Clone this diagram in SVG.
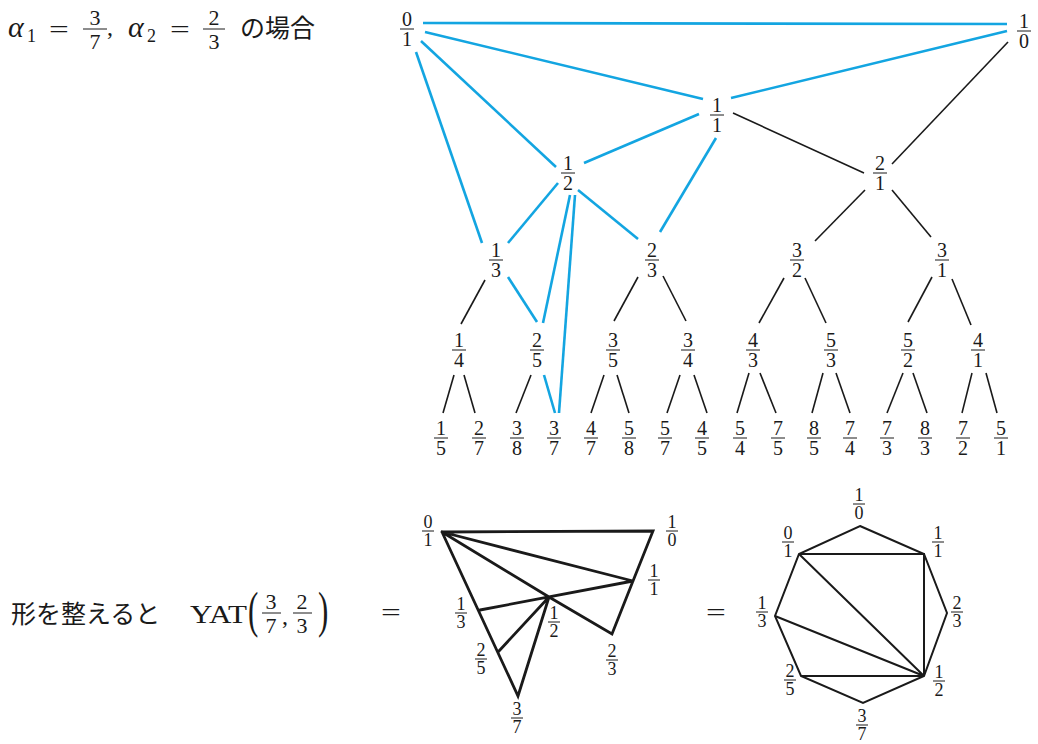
<svg xmlns="http://www.w3.org/2000/svg" width="1038" height="744" viewBox="0 0 1038 744" font-family="'Liberation Serif', 'DejaVu Serif', serif">
<style>
text { font-family: "Liberation Serif", "DejaVu Serif", serif; fill: #1a1a1a; }
.jp { font-family: "Noto Sans CJK JP", "Noto Sans CJK SC", sans-serif; font-size: 25px; }
.fr text { font-size: 20px; text-anchor: middle; }
.fs text { font-size: 18px; text-anchor: middle; }
.fm text { font-size: 22px; text-anchor: middle; }
.fr line, .fs line, .fm line { stroke: #1a1a1a; stroke-width: 1; }
.blue { stroke: #13a5e1; stroke-width: 2.6; fill: none; }
.blk { stroke: #1a1a1a; stroke-width: 1.6; fill: none; }
.thick { stroke: #1a1a1a; stroke-width: 2.8; fill: none; stroke-linejoin: miter; stroke-linecap: round; }
.oct { stroke: #1a1a1a; stroke-width: 2; fill: none; stroke-linejoin: miter; }
.eq { font-size: 26px; text-anchor: middle; }
</style>

<!-- Heading -->
<g id="heading">
  <text x="8" y="37" font-size="30" font-style="italic">α</text>
  <text x="27" y="42" font-size="18">1</text>
  <text transform="translate(59,38) scale(1.35,1)" class="eq">=</text>
  <g class="fm"><text x="95" y="25">3</text><line x1="83" y1="29" x2="107" y2="29"/><text x="95" y="49">7</text></g>
  <text x="107" y="35" font-size="24">,</text>
  <text x="128" y="37" font-size="30" font-style="italic">α</text>
  <text x="147" y="42" font-size="18">2</text>
  <text transform="translate(180,38) scale(1.35,1)" class="eq">=</text>
  <g class="fm"><text x="214" y="25">2</text><line x1="203" y1="29" x2="225" y2="29"/><text x="214" y="49">3</text></g>
  <text x="240" y="37" class="jp" font-size="26">の場合</text>
</g>

<!-- Connectors of the tree -->
<g id="connectors">
  <line class="blue" x1="423" y1="23" x2="1007" y2="24"/>
  <line class="blue" x1="425" y1="32" x2="703" y2="99"/>
  <line class="blue" x1="421" y1="41" x2="556" y2="167"/>
  <line class="blue" x1="416" y1="52" x2="482" y2="243"/>
  <line class="blue" x1="584" y1="163" x2="699" y2="114"/>
  <line class="blue" x1="716" y1="138" x2="660" y2="232"/>
  <line class="blue" x1="731" y1="98" x2="1007" y2="31"/>
  <line class="blue" x1="558" y1="183" x2="508" y2="243"/>
  <line class="blue" x1="578" y1="190" x2="638" y2="239"/>
  <line class="blue" x1="570" y1="195" x2="543" y2="323"/>
  <line class="blue" x1="575" y1="195" x2="559" y2="413"/>
  <line class="blue" x1="508" y1="277" x2="537" y2="322"/>
  <line class="blue" x1="544" y1="375" x2="555" y2="413"/>

  <line class="blk" x1="733" y1="113" x2="864" y2="173"/>
  <line class="blk" x1="1008" y1="42" x2="892" y2="164"/>
  <line class="blk" x1="865" y1="190" x2="815" y2="241"/>
  <line class="blk" x1="892" y1="190" x2="931" y2="237"/>
  <line class="blk" x1="485" y1="280" x2="461" y2="324"/>
  <line class="blk" x1="638" y1="277" x2="614" y2="321"/>
  <line class="blk" x1="663" y1="276" x2="686" y2="321"/>
  <line class="blk" x1="784" y1="278" x2="759" y2="323"/>
  <line class="blk" x1="805" y1="278" x2="826" y2="323"/>
  <line class="blk" x1="932" y1="277" x2="908" y2="322"/>
  <line class="blk" x1="952" y1="279" x2="971" y2="325"/>
  <line class="blk" x1="454" y1="375" x2="443" y2="413"/>
  <line class="blk" x1="464" y1="375" x2="475" y2="413"/>
  <line class="blk" x1="531" y1="375" x2="516" y2="413"/>
  <line class="blk" x1="604" y1="375" x2="591" y2="413"/>
  <line class="blk" x1="617" y1="375" x2="629" y2="413"/>
  <line class="blk" x1="680" y1="375" x2="667" y2="413"/>
  <line class="blk" x1="694" y1="375" x2="707" y2="413"/>
  <line class="blk" x1="749" y1="373" x2="737" y2="413"/>
  <line class="blk" x1="760" y1="373" x2="776" y2="413"/>
  <line class="blk" x1="823" y1="373" x2="812" y2="413"/>
  <line class="blk" x1="836" y1="373" x2="850" y2="413"/>
  <line class="blk" x1="903" y1="373" x2="887" y2="413"/>
  <line class="blk" x1="913" y1="373" x2="927" y2="413"/>
  <line class="blk" x1="972" y1="373" x2="962" y2="413"/>
  <line class="blk" x1="986" y1="373" x2="997" y2="413"/>
</g>

<!-- Tree nodes -->
<g id="t-0-1" class="fr"><text x="407" y="26">0</text><line x1="400" y1="29" x2="414" y2="29"/><text x="407" y="46">1</text></g>
<g id="t-1-0" class="fr"><text x="1024" y="28">1</text><line x1="1017" y1="31" x2="1031" y2="31"/><text x="1024" y="48">0</text></g>
<g id="t-1-1" class="fr"><text x="717" y="112">1</text><line x1="710" y1="115" x2="724" y2="115"/><text x="717" y="132">1</text></g>
<g id="t-1-2" class="fr"><text x="568" y="170">1</text><line x1="561" y1="173" x2="575" y2="173"/><text x="568" y="190">2</text></g>
<g id="t-2-1" class="fr"><text x="880" y="170">2</text><line x1="873" y1="173" x2="887" y2="173"/><text x="880" y="190">1</text></g>
<g id="t-1-3" class="fr"><text x="496" y="257">1</text><line x1="489" y1="260" x2="503" y2="260"/><text x="496" y="277">3</text></g>
<g id="t-2-3" class="fr"><text x="652" y="257">2</text><line x1="645" y1="260" x2="659" y2="260"/><text x="652" y="277">3</text></g>
<g id="t-3-2" class="fr"><text x="797" y="257">3</text><line x1="790" y1="260" x2="804" y2="260"/><text x="797" y="277">2</text></g>
<g id="t-3-1" class="fr"><text x="942" y="257">3</text><line x1="935" y1="260" x2="949" y2="260"/><text x="942" y="277">1</text></g>
<g id="t-1-4" class="fr"><text x="459" y="347">1</text><line x1="452" y1="350" x2="466" y2="350"/><text x="459" y="367">4</text></g>
<g id="t-2-5" class="fr"><text x="537" y="347">2</text><line x1="530" y1="350" x2="544" y2="350"/><text x="537" y="367">5</text></g>
<g id="t-3-5" class="fr"><text x="613" y="347">3</text><line x1="606" y1="350" x2="620" y2="350"/><text x="613" y="367">5</text></g>
<g id="t-3-4" class="fr"><text x="688" y="347">3</text><line x1="681" y1="350" x2="695" y2="350"/><text x="688" y="367">4</text></g>
<g id="t-4-3" class="fr"><text x="753" y="347">4</text><line x1="746" y1="350" x2="760" y2="350"/><text x="753" y="367">3</text></g>
<g id="t-5-3" class="fr"><text x="831" y="347">5</text><line x1="824" y1="350" x2="838" y2="350"/><text x="831" y="367">3</text></g>
<g id="t-5-2" class="fr"><text x="908" y="347">5</text><line x1="901" y1="350" x2="915" y2="350"/><text x="908" y="367">2</text></g>
<g id="t-4-1" class="fr"><text x="978" y="347">4</text><line x1="971" y1="350" x2="985" y2="350"/><text x="978" y="367">1</text></g>
<g id="t-1-5" class="fr"><text x="441" y="435">1</text><line x1="434" y1="438" x2="448" y2="438"/><text x="441" y="455">5</text></g>
<g id="t-2-7" class="fr"><text x="479" y="435">2</text><line x1="472" y1="438" x2="486" y2="438"/><text x="479" y="455">7</text></g>
<g id="t-3-8" class="fr"><text x="517" y="435">3</text><line x1="510" y1="438" x2="524" y2="438"/><text x="517" y="455">8</text></g>
<g id="t-3-7" class="fr"><text x="554" y="435">3</text><line x1="547" y1="438" x2="561" y2="438"/><text x="554" y="455">7</text></g>
<g id="t-4-7" class="fr"><text x="591" y="435">4</text><line x1="584" y1="438" x2="598" y2="438"/><text x="591" y="455">7</text></g>
<g id="t-5-8" class="fr"><text x="629" y="435">5</text><line x1="622" y1="438" x2="636" y2="438"/><text x="629" y="455">8</text></g>
<g id="t-5-7" class="fr"><text x="665" y="435">5</text><line x1="658" y1="438" x2="672" y2="438"/><text x="665" y="455">7</text></g>
<g id="t-4-5" class="fr"><text x="702" y="435">4</text><line x1="695" y1="438" x2="709" y2="438"/><text x="702" y="455">5</text></g>
<g id="t-5-4" class="fr"><text x="740" y="435">5</text><line x1="733" y1="438" x2="747" y2="438"/><text x="740" y="455">4</text></g>
<g id="t-7-5" class="fr"><text x="778" y="435">7</text><line x1="771" y1="438" x2="785" y2="438"/><text x="778" y="455">5</text></g>
<g id="t-8-5" class="fr"><text x="814" y="435">8</text><line x1="807" y1="438" x2="821" y2="438"/><text x="814" y="455">5</text></g>
<g id="t-7-4" class="fr"><text x="850" y="435">7</text><line x1="843" y1="438" x2="857" y2="438"/><text x="850" y="455">4</text></g>
<g id="t-7-3" class="fr"><text x="887" y="435">7</text><line x1="880" y1="438" x2="894" y2="438"/><text x="887" y="455">3</text></g>
<g id="t-8-3" class="fr"><text x="925" y="435">8</text><line x1="918" y1="438" x2="932" y2="438"/><text x="925" y="455">3</text></g>
<g id="t-7-2" class="fr"><text x="963" y="435">7</text><line x1="956" y1="438" x2="970" y2="438"/><text x="963" y="455">2</text></g>
<g id="t-5-1" class="fr"><text x="1001" y="435">5</text><line x1="994" y1="438" x2="1008" y2="438"/><text x="1001" y="455">1</text></g>

<!-- Bottom formula -->
<g id="formula">
  <text x="11" y="623" class="jp" font-size="26">形を整えると</text>
  <text x="190" y="623" font-size="26" textLength="57" lengthAdjust="spacingAndGlyphs">YAT</text>
  <text transform="translate(248,627) scale(0.62,1)" font-size="50">(</text>
  <g class="fm"><text x="271" y="609">3</text><line x1="262" y1="613" x2="281" y2="613"/><text x="271" y="633">7</text></g>
  <text x="282" y="624" font-size="24">,</text>
  <g class="fm"><text x="302" y="609">2</text><line x1="293" y1="613" x2="312" y2="613"/><text x="302" y="633">3</text></g>
  <text transform="translate(318,627) scale(0.62,1)" font-size="50">)</text>
  <text transform="translate(391,621) scale(1.35,1)" class="eq">=</text>
  <text transform="translate(716,621) scale(1.35,1)" class="eq">=</text>
</g>

<!-- Triangulated figure -->
<g id="yat-figure">
  <path class="thick" d="M442,532 L653,531 L633,581 L612,634 L549,597 M442,532 L633,581 M442,532 L549,597 M480,610 L633,581 M442,532 L518,696 L549,597 M499,651 L549,597"/>
</g>
<g id="y-0-1" class="fs"><text x="428" y="528">0</text><line x1="422" y1="531" x2="434" y2="531"/><text x="428" y="546">1</text></g>
<g id="y-1-0" class="fs"><text x="672" y="528">1</text><line x1="666" y1="531" x2="678" y2="531"/><text x="672" y="546">0</text></g>
<g id="y-1-1" class="fs"><text x="654" y="577">1</text><line x1="648" y1="580" x2="660" y2="580"/><text x="654" y="595">1</text></g>
<g id="y-1-3" class="fs"><text x="461" y="610">1</text><line x1="455" y1="613" x2="467" y2="613"/><text x="461" y="628">3</text></g>
<g id="y-1-2" class="fs"><text x="554" y="619">1</text><line x1="548" y1="622" x2="560" y2="622"/><text x="554" y="637">2</text></g>
<g id="y-2-5" class="fs"><text x="481" y="656">2</text><line x1="475" y1="659" x2="487" y2="659"/><text x="481" y="674">5</text></g>
<g id="y-2-3" class="fs"><text x="612" y="657">2</text><line x1="606" y1="660" x2="618" y2="660"/><text x="612" y="675">3</text></g>
<g id="y-3-7" class="fs"><text x="517" y="715">3</text><line x1="511" y1="718" x2="523" y2="718"/><text x="517" y="733">7</text></g>

<!-- Octagon figure -->
<g id="octagon">
  <polygon class="oct" points="860,526 924,554 947,613 924,676 863,703 801,676 775,616 799,554"/>
  <path class="oct" d="M799,554 L924,554 L924,676 M799,554 L924,676 M775,616 L924,676 M801,676 L924,676"/>
</g>
<g id="o-1-0" class="fs"><text x="859" y="501">1</text><line x1="853" y1="504" x2="865" y2="504"/><text x="859" y="519">0</text></g>
<g id="o-0-1" class="fs"><text x="788" y="539">0</text><line x1="782" y1="542" x2="794" y2="542"/><text x="788" y="557">1</text></g>
<g id="o-1-1" class="fs"><text x="938" y="539">1</text><line x1="932" y1="542" x2="944" y2="542"/><text x="938" y="557">1</text></g>
<g id="o-1-3" class="fs"><text x="762" y="609">1</text><line x1="756" y1="612" x2="768" y2="612"/><text x="762" y="627">3</text></g>
<g id="o-2-3" class="fs"><text x="957" y="609">2</text><line x1="951" y1="612" x2="963" y2="612"/><text x="957" y="627">3</text></g>
<g id="o-2-5" class="fs"><text x="790" y="677">2</text><line x1="784" y1="680" x2="796" y2="680"/><text x="790" y="695">5</text></g>
<g id="o-1-2" class="fs"><text x="939" y="678">1</text><line x1="933" y1="681" x2="945" y2="681"/><text x="939" y="696">2</text></g>
<g id="o-3-7" class="fs"><text x="862" y="722">3</text><line x1="856" y1="725" x2="868" y2="725"/><text x="862" y="740">7</text></g>
</svg>
